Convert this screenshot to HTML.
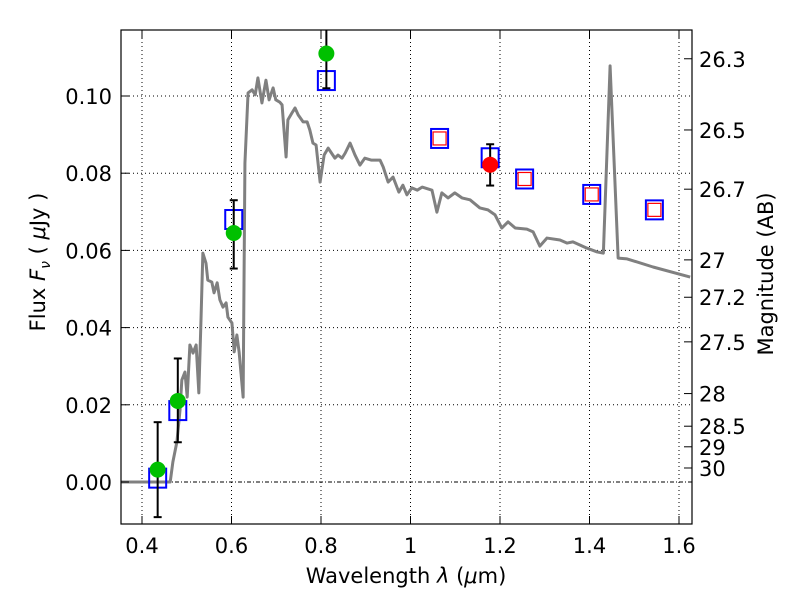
<!DOCTYPE html>
<html><head><meta charset="utf-8"><style>
body{margin:0;background:#fff;}
svg text{font-family:"DejaVu Sans","Liberation Sans",sans-serif;fill:#000;}
</style></head><body>
<svg id="chart" width="800" height="600" xmlns="http://www.w3.org/2000/svg">
<rect width="800" height="600" fill="#fff"/>
<g id="grid"></g>
<g id="spec"></g>
<g id="pts"></g>
<rect x="121" y="30" width="571" height="494" fill="none" stroke="#000" stroke-width="1.2"/>
<g id="axes"></g>
<text x="406" y="583" font-size="21" text-anchor="middle">Wavelength  <tspan font-style="italic">λ</tspan> (<tspan font-style="italic">μ</tspan>m)</text>
<text transform="translate(45,262) rotate(-90)" font-size="21" text-anchor="middle">Flux  <tspan font-style="italic">F</tspan><tspan font-style="italic" font-size="14" dy="5">ν</tspan><tspan dy="-5">  (  </tspan><tspan font-style="italic">μ</tspan>Jy )</text>
<text transform="translate(773,274) rotate(-90)" font-size="21" text-anchor="middle">Magnitude (AB)</text>
</svg>
<script>
const specLam=[0.353,0.463,0.469,0.478,0.485,0.489,0.496,0.501,0.507,0.514,0.521,0.527,0.532,0.536,0.543,0.547,0.556,0.561,0.568,0.574,0.581,0.588,0.592,0.601,0.606,0.612,0.617,0.626,0.630,0.637,0.646,0.653,0.659,0.668,0.677,0.684,0.693,0.699,0.708,0.713,0.722,0.726,0.735,0.742,0.749,0.760,0.769,0.775,0.782,0.789,0.798,0.807,0.816,0.831,0.838,0.847,0.854,0.865,0.876,0.887,0.898,0.912,0.923,0.932,0.939,0.950,0.961,0.974,0.983,0.992,1.003,1.015,1.026,1.048,1.059,1.070,1.084,1.099,1.115,1.133,1.155,1.173,1.189,1.204,1.218,1.234,1.260,1.274,1.289,1.305,1.334,1.350,1.363,1.394,1.417,1.431,1.446,1.464,1.484,1.542,1.625];
const specFlux=[0,0,0.0052,0.0104,0.0187,0.0264,0.0285,0.0220,0.0355,0.0334,0.0355,0.0231,0.0427,0.0593,0.0567,0.0523,0.0518,0.0490,0.0516,0.0472,0.0453,0.0464,0.0427,0.0412,0.0337,0.0381,0.0337,0.0220,0.0826,0.1008,0.1016,0.1003,0.1047,0.0982,0.1041,0.0990,0.1021,0.0990,0.0984,0.0977,0.0842,0.0938,0.0956,0.0969,0.0951,0.0933,0.0933,0.0912,0.0878,0.0873,0.0777,0.0847,0.0865,0.0839,0.0847,0.0839,0.0852,0.0878,0.0847,0.0821,0.0839,0.0834,0.0834,0.0834,0.0816,0.0777,0.0790,0.0751,0.0769,0.0744,0.0762,0.0756,0.0764,0.0756,0.0699,0.0749,0.0736,0.0749,0.0736,0.0731,0.0710,0.0705,0.0692,0.0658,0.0674,0.0658,0.0655,0.0648,0.0611,0.0632,0.0627,0.0619,0.0622,0.0606,0.0596,0.0593,0.1078,0.0580,0.0578,0.0557,0.0531];
const detLam=[0.435,0.48,0.605,0.812];
const detFlux=[0.0032,0.021,0.0645,0.111];
const detLo=[-0.0091,0.0103,0.0553,0.102];
const detHi=[0.0155,0.032,0.073,0.125];
const redLam=[1.178];
const redFlux=[0.0822];
const redLo=[0.0768];
const redHi=[0.0875];
const modLam=[0.435,0.48,0.605,0.812,1.065,1.178,1.255,1.405,1.545];
const modFlux=[0.001,0.0185,0.068,0.104,0.089,0.084,0.0785,0.0745,0.0705];
const limLam=[1.065,1.255,1.405,1.545];
const limFlux=[0.089,0.0785,0.0745,0.0705];
const xTicks=[0.4,0.6,0.8,1.0,1.2,1.4,1.6];
const xTickLabels=["0.4","0.6","0.8","1","1.2","1.4","1.6"];
const yTicks=[0,0.02,0.04,0.06,0.08,0.10];
const yTickLabels=["0.00","0.02","0.04","0.06","0.08","0.10"];
const magTicks=[26.3,26.5,26.7,27,27.2,27.5,28,28.5,29,30];
const magTickLabels=["26.3","26.5","26.7","27","27.2","27.5","28","28.5","29","30"];

const X=l=>142+(l-0.4)*447.5;
const Y=f=>482-f*3860;
const NS="http://www.w3.org/2000/svg";
function mk(tag,parent,attrs){const e=document.createElementNS(NS,tag);for(const k in attrs)e.setAttribute(k,attrs[k]);parent.appendChild(e);return e;}
const grid=document.getElementById('grid'),axes=document.getElementById('axes'),spec=document.getElementById('spec'),pts=document.getElementById('pts');

xTicks.forEach((t,i)=>{
  const g=mk('line',grid,{x1:X(t),x2:X(t),y1:30,y2:524,stroke:'#000','stroke-width':1,'stroke-dasharray':'1,3'});
  
  
  mk('line',axes,{x1:X(t),x2:X(t),y1:524,y2:516,stroke:'#000','stroke-width':1});
  mk('line',axes,{x1:X(t),x2:X(t),y1:30,y2:38,stroke:'#000','stroke-width':1});
  const tx=mk('text',axes,{x:X(t),y:553,'font-size':21,'text-anchor':'middle'});
  tx.textContent=xTickLabels[i];
  
  
});
yTicks.forEach((t,i)=>{
  const g=mk('line',grid,{x1:121,x2:692,y1:Y(t),y2:Y(t),stroke:'#000','stroke-width':1,'stroke-dasharray':t===0?'4,2,1,2':'1,3'});
  
  
  mk('line',axes,{x1:121,x2:129,y1:Y(t),y2:Y(t),stroke:'#000','stroke-width':1});
  const tx=mk('text',axes,{x:112,y:Y(t)+8,'font-size':21,'text-anchor':'end'});
  tx.textContent=yTickLabels[i];
  
  
});
magTicks.forEach((m,i)=>{
  const f=Math.pow(10,(23.9-m)/2.5);const y=Y(f);
  mk('line',axes,{x1:684,x2:692,y1:y,y2:y,stroke:'#000','stroke-width':1});
  const tx=mk('text',axes,{x:699,y:y+8,'font-size':21});
  tx.textContent=magTickLabels[i];
  
  
});

const sp=mk('polyline',spec,{points:specLam.map((l,i)=>X(l)+','+Y(specFlux[i])).join(' '),fill:'none',stroke:'#808080','stroke-width':3,'stroke-linejoin':'round'});



function errbar(l,lo,hi){
  const x=X(l),y1=Y(lo),y2=Math.max(Y(hi),30);
  mk('line',pts,{x1:x,x2:x,y1:y1,y2:y2,stroke:'#000','stroke-width':2});
  mk('line',pts,{x1:x-4,x2:x+4,y1:y1,y2:y1,stroke:'#000','stroke-width':2});
  if(Y(hi)>30) mk('line',pts,{x1:x-4,x2:x+4,y1:y2,y2:y2,stroke:'#000','stroke-width':2});
}
modLam.forEach((l,i)=>{
  const r=mk('rect',pts,{x:X(l)-8.5,y:Y(modFlux[i])-9.5,width:17,height:19,fill:'none',stroke:'#0000ff','stroke-width':2});
  
  
});
limLam.forEach((l,i)=>{
  const r=mk('rect',pts,{x:X(l)-6.5,y:Y(limFlux[i])-6.5,width:13,height:13,fill:'#fff',stroke:'#ff0000','stroke-width':1.2});
  
  
});
detLam.forEach((l,i)=>{
  errbar(l,detLo[i],detHi[i]);
  const c=mk('circle',pts,{cx:X(l),cy:Y(detFlux[i]),r:8,fill:'#00c000'});
  
  
});
redLam.forEach((l,i)=>{
  errbar(l,redLo[i],redHi[i]);
  const c=mk('circle',pts,{cx:X(l),cy:Y(redFlux[i]),r:8,fill:'#ff0000'});
  
  
});
</script>
</body></html>
